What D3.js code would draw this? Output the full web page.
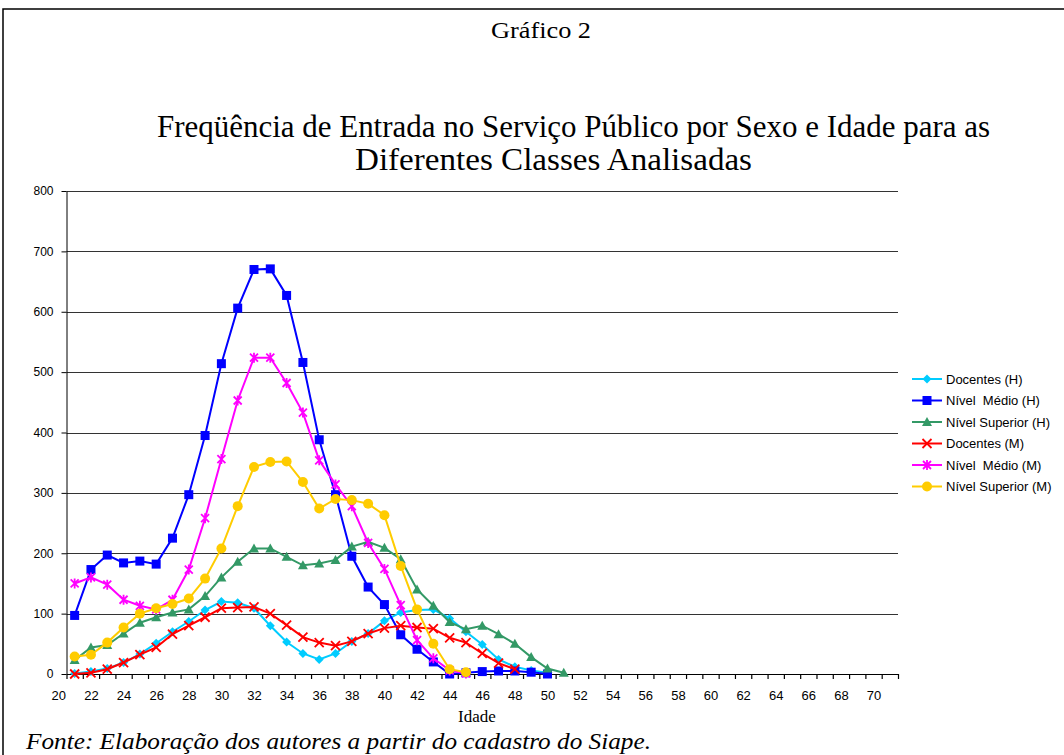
<!DOCTYPE html>
<html>
<head>
<meta charset="utf-8">
<script src="https://cdn.jsdelivr.net/npm/d3@7"></script>
<style>
  body { margin: 0; background: #fff; }
  svg { display: block; }
</style>
</head>
<body>
<div id="chart"></div>
<script>
const width = 1064;
const height = 755;
const margin = {left: 66.5, right: 166, top: 191, bottom: 81};

// idade (categorias do eixo x)
const ages = [21,22,23,24,25,26,27,28,29,30,31,32,33,34,35,36,37,38,39,40,41,42,43,44,45,46,47,48,49,50,51];
const xTickLabels = [20,22,24,26,28,30,32,34,36,38,40,42,44,46,48,50,52,54,56,58,60,62,64,66,68,70];
const yTickLabels = [0,100,200,300,400,500,600,700,800];

// series (null = sem ponto)
const docentesH  = [1,4,9,19,33,51,70,87,106,120,118,109,80,53,34,24,34,54,67,88,102,106,107,92,70,49,24,12,6,2,null];
const medioH     = [97,173,197,184,187,182,225,297,395,514,606,670,671,627,516,388,297,195,144,115,65,41,20,0,2,4,5,5,3,0,null];
const superiorH  = [23,44,48,67,85,94,102,107,129,160,186,208,208,194,180,183,189,211,219,209,190,140,113,86,74,80,66,50,28,9,2];
const docentesM  = [0,2,8,19,32,44,66,80,94,109,110,111,100,81,61,52,47,54,67,76,80,77,75,60,52,34,18,8,null,null,null];
const medioM     = [150,160,148,123,113,107,123,173,258,356,453,524,524,482,433,354,314,278,217,174,114,56,26,6,1,null,null,null,null,null,null];
const superiorM  = [29,32,52,77,100,109,116,125,158,208,278,343,351,352,318,274,290,288,282,263,179,107,50,8,3,null,null,null,null,null,null];

const seriesNames = ["Docentes (H)", "Nível  Médio (H)", "Nível Superior (H)", "Docentes (M)", "Nível  Médio (M)", "Nível Superior (M)"];
const seriesValues = [docentesH, medioH, superiorH, docentesM, medioM, superiorM];
const seriesColors = ["#00CCFF", "#0000FF", "#339966", "#FF0000", "#FF00FF", "#FFCC00"];
const seriesMarkers = ["diamond", "square", "triangle", "x", "star", "circle"];

const svg = d3.select("#chart")
  .append("svg")
  .attr("width", width)
  .attr("height", height);

// moldura (linha de cima e da esquerda)
svg.append("path")
  .attr("d", `M3,${height} L3,9 L${width},9`)
  .attr("fill", "none")
  .attr("stroke", "#000")
  .attr("stroke-width", 1.5);

const serif = "'Liberation Serif', 'Times New Roman', serif";
const sans = "'Liberation Sans', Arial, sans-serif";

// textos com largura ajustada a do original
function addText(x, y, size, str, len, italic) {
  const t = svg.append("text")
    .attr("x", x).attr("y", y)
    .attr("font-family", serif)
    .attr("font-size", size + "px")
    .attr("textLength", len)
    .attr("lengthAdjust", "spacingAndGlyphs")
    .text(str);
  if (italic) t.attr("font-style", "italic");
  return t;
}

addText(491, 38, 24, "Gráfico 2", 100);
addText(157, 137, 31, "Freqüência de Entrada no Serviço Público por Sexo e Idade para as", 833);
addText(355, 170, 31, "Diferentes Classes Analisadas", 397);

const xScale = d3.scaleLinear()
  .domain([20.5, 71.5])
  .range([margin.left, width - margin.right]);

const yScale = d3.scaleLinear()
  .domain([0, 800])
  .range([height - margin.bottom, margin.top]);

// linhas de grade
svg.append("g")
  .selectAll("line")
  .data(yTickLabels.filter(d => d > 0))
  .enter()
  .append("line")
    .attr("x1", xScale(20.5))
    .attr("x2", xScale(71.5))
    .attr("y1", d => Math.round(yScale(d)) + 0.5)
    .attr("y2", d => Math.round(yScale(d)) + 0.5)
    .attr("stroke", "#333")
    .attr("stroke-width", 1);

// eixo y
const yAxis = svg.append("g")
  .attr("transform", `translate(${margin.left},0)`)
  .call(d3.axisLeft(yScale).tickValues(yTickLabels).tickSize(5).tickPadding(8).tickSizeOuter(0));
yAxis.selectAll("text").attr("font-family", sans).attr("font-size", "12px").attr("fill", "#000");
yAxis.selectAll("line, path").attr("stroke", "#000");

// eixo x: marcas entre as categorias
const tickMarks = d3.range(20.5, 72, 1);
const xAxisTicks = svg.append("g")
  .attr("transform", `translate(0,${yScale(0)})`)
  .call(d3.axisBottom(xScale).tickValues(tickMarks).tickSize(5).tickFormat("").tickSizeOuter(0));
xAxisTicks.selectAll("line, path").attr("stroke", "#000").attr("stroke-width", 1.2);

// eixo x: rotulos
const xAxisLabels = svg.append("g")
  .attr("transform", `translate(0,${yScale(0)})`)
  .call(d3.axisBottom(xScale).tickValues(xTickLabels).tickSize(0).tickPadding(17).tickFormat(d3.format("d")));
xAxisLabels.select(".domain").remove();
xAxisLabels.selectAll("text").attr("font-family", sans).attr("font-size", "13px").attr("fill", "#000");

svg.append("text")
  .attr("x", 477).attr("y", 722)
  .attr("text-anchor", "middle")
  .attr("font-family", serif)
  .attr("font-size", "17px")
  .text("Idade");

addText(26, 749, 23, "Fonte: Elaboração dos autores a partir do cadastro do Siape.", 625, true);

// desenho dos marcadores
function drawMarker(g, type, color) {
  if (type === "diamond") {
    g.append("path").attr("d", "M0,-4.5L4.5,0L0,4.5L-4.5,0Z").attr("fill", color);
  } else if (type === "square") {
    g.append("rect").attr("x", -4.5).attr("y", -4.5).attr("width", 9).attr("height", 9).attr("fill", color);
  } else if (type === "triangle") {
    g.append("path").attr("d", "M0,-5L5,4L-5,4Z").attr("fill", color);
  } else if (type === "circle") {
    g.append("circle").attr("r", 5).attr("fill", color);
  } else if (type === "x") {
    g.append("path").attr("d", "M-4.5,-4.5L4.5,4.5M4.5,-4.5L-4.5,4.5").attr("stroke", color).attr("stroke-width", 1.8);
  } else if (type === "star") {
    g.append("path").attr("d", "M-4,-4L4,4M4,-4L-4,4M0,-5L0,5").attr("stroke", color).attr("stroke-width", 1.8);
  }
}

const line = d3.line()
  .defined(d => d.v !== null)
  .x(d => xScale(d.age))
  .y(d => yScale(d.v));

seriesValues.forEach((vals, s) => {
  const pts = ages.map((a, i) => ({age: a, v: vals[i]}));
  const g = svg.append("g");
  g.append("path")
    .datum(pts)
    .attr("d", line)
    .attr("fill", "none")
    .attr("stroke", seriesColors[s])
    .attr("stroke-width", 2);
  g.selectAll(".pt")
    .data(pts.filter(d => d.v !== null))
    .enter()
    .append("g")
      .attr("class", "pt")
      .attr("transform", d => `translate(${xScale(d.age)},${yScale(d.v)})`)
      .each(function() { drawMarker(d3.select(this), seriesMarkers[s], seriesColors[s]); });
});

// legenda
const legend = svg.append("g").attr("transform", "translate(912,379)");
seriesNames.forEach((name, i) => {
  const row = legend.append("g").attr("transform", `translate(0,${i * 21.5})`);
  row.append("line")
    .attr("x1", 0).attr("x2", 30)
    .attr("stroke", seriesColors[i])
    .attr("stroke-width", 2);
  drawMarker(row.append("g").attr("transform", "translate(15,0)"), seriesMarkers[i], seriesColors[i]);
  row.append("text")
    .attr("x", 34).attr("y", 4.5)
    .attr("font-family", sans)
    .attr("font-size", "13px")
    .style("white-space", "pre")
    .text(name);
});
</script>
</body>
</html>
